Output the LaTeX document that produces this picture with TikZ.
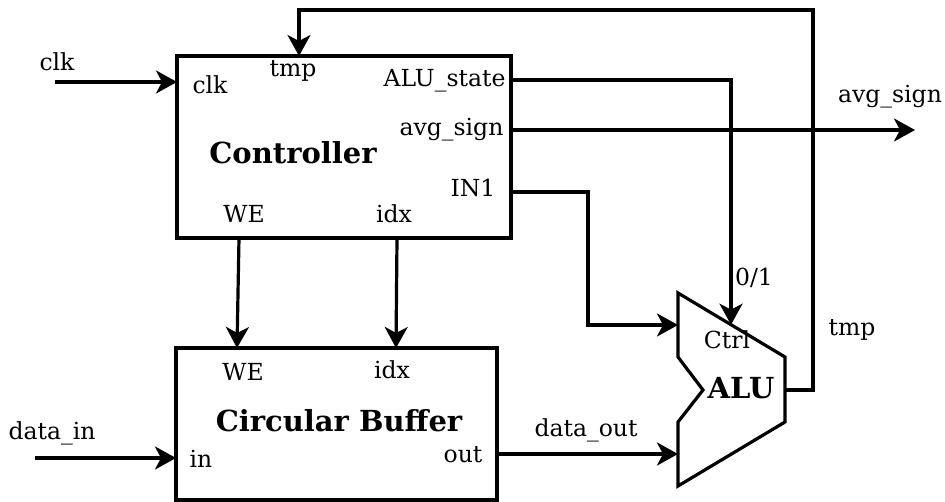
\documentclass[tikz,border=0pt]{standalone}
\usepackage{fontspec}
\setmainfont{DejaVu Serif}
\usetikzlibrary{arrows.meta}
\begin{document}
\begin{tikzpicture}[x=1pt,y=-1pt,
  line width=3.2pt,
  lbl/.style={inner sep=0pt,font=\fontsize{23.5}{26}\selectfont},
  title/.style={inner sep=0pt,font=\fontsize{29}{32}\selectfont\bfseries},
  box/.style={draw,rectangle,inner sep=0pt},
  wire/.style={line width=3.2pt},
  arr/.style={wire,-{Stealth[length=21pt,width=23pt,inset=6pt]}}]
\useasboundingbox (0,0) rectangle (945,502);
% boxes
\node[box,minimum width=334pt,minimum height=182pt] (ctrl) at (344,147) {};
\node[box,minimum width=321pt,minimum height=152pt] (buf) at (336.5,424) {};
% ALU shape
\coordinate (aluTL) at (678,293);
\coordinate (aluTR) at (785,357);
\coordinate (aluBR) at (785,422);
\coordinate (aluBL) at (678,486);
\draw[line join=miter] (aluTL) -- (aluTR) -- (aluBR) -- (aluBL) -- (678,422) -- (703,390) -- (678,357) -- cycle;
\coordinate (aluA) at (678,325);
\coordinate (aluB) at (678,454);
\coordinate (aluCtrl) at (731,324.7);
\coordinate (aluOut) at (785,390);
% port coordinates
\coordinate (cClk) at (177,82);
\coordinate (cTmp) at (299,56);
\coordinate (cState) at (511,80);
\coordinate (cAvg) at (511,130);
\coordinate (cIn1) at (511,192);
\coordinate (cWE) at (239,238);
\coordinate (cIdx) at (397,238);
\coordinate (bWE) at (237,348);
\coordinate (bIdx) at (396,348);
\coordinate (bIn) at (176,458);
\coordinate (bOut) at (497,454);
\coordinate (clkSrc) at (55,82);
\coordinate (dinSrc) at (35,458);
\coordinate (avgDst) at (915,130);
% texts
\node[title] (tctrl) at (293,153) {Controller};
\node[title] (tbuf) at (339,421) {Circular Buffer};
\node[title] (talu) at (741,388) {ALU};
\node[lbl] (lclk) at (57,62) {clk};
\node[lbl] (iclk) at (210,85) {clk};
\node[lbl] (itmp) at (293,71) {tmp};
\node[lbl,anchor=east] (istate) at (507,81) {ALU\_state};
\node[lbl,anchor=east] (iavg) at (505,130) {avg\_sign};
\node[lbl,anchor=east] (iin1) at (497,188) {IN1};
\node[lbl] (iwe) at (244,214) {WE};
\node[lbl] (iidx) at (394,214) {idx};
\node[lbl] (bwe) at (243,372) {WE};
\node[lbl] (bidx) at (392,370) {idx};
\node[lbl] (bin) at (201,459) {in};
\node[lbl] (bout) at (463,455) {out};
\node[lbl] (ldin) at (52,433) {data\_in};
\node[lbl] (ldout) at (586,430) {data\_out};
\node[lbl] (l01) at (754,278) {0/1};
\node[lbl] (ltmp) at (852,330) {tmp};
\node[lbl] (lavg) at (890,97) {avg\_sign};
\node[lbl] (lctl) at (727,340) {Ctrl};
% connectors
\draw[arr] (clkSrc) -- (cClk);
\draw[arr] (dinSrc) -- (bIn);
\draw[arr] (cWE) -- (bWE);
\draw[arr] (cIdx) -- (bIdx);
\draw[arr] (cAvg) -- (avgDst);
\draw[arr] (cState) -- (731,80) -- (aluCtrl);
\draw[arr] (cIn1) -- (588,192) -- (588,325) -- (aluA);
\draw[arr] (bOut) -- (aluB);
\draw[arr] (aluOut) -- (813,390) -- (813,10) -- (299,10) -- (cTmp);
\end{tikzpicture}
\end{document}
